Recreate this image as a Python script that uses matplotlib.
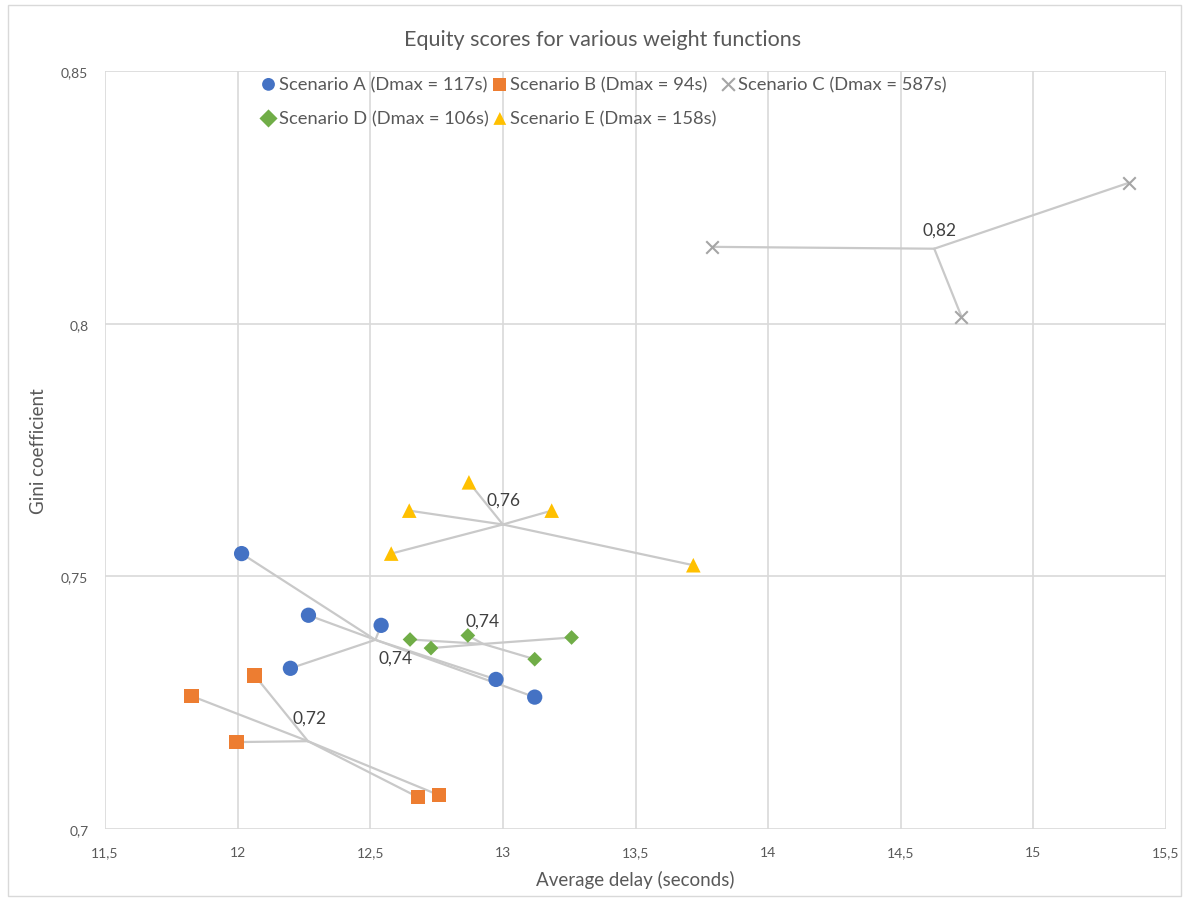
import matplotlib
matplotlib.use("Agg")
import matplotlib.pyplot as plt
import numpy as np
from matplotlib.patches import Rectangle

plt.rcParams['font.family'] = ['Lato', 'DejaVu Sans']

# ---- data ----
scenario_names = ["Scenario A (Dmax = 117s)", "Scenario B (Dmax = 94s)",
                  "Scenario C (Dmax = 587s)", "Scenario D (Dmax = 106s)",
                  "Scenario E (Dmax = 158s)"]
a_delay = [12.015, 12.267, 12.541, 12.199, 12.974, 13.120]
a_gini = [0.7545, 0.7423, 0.7403, 0.7318, 0.7296, 0.7261]
b_delay = [11.827, 12.064, 11.996, 12.680, 12.759]
b_gini = [0.7263, 0.7304, 0.7172, 0.7063, 0.7067]
c_delay = [13.789, 14.729, 15.361]
c_gini = [0.8152, 0.8014, 0.8279]
d_delay = [12.650, 12.729, 12.868, 13.120, 13.259]
d_gini = [0.7375, 0.7358, 0.7383, 0.7336, 0.7379]
e_delay = [12.872, 12.647, 13.184, 12.579, 13.718]
e_gini = [0.7686, 0.7630, 0.7630, 0.7545, 0.7522]
centroid_labels = ["0,74", "0,72", "0,82", "0,74", "0,76"]
x_ticks = [11.5, 12, 12.5, 13, 13.5, 14, 14.5, 15, 15.5]
y_ticks = [0.7, 0.75, 0.8, 0.85]

# ---- styles ----
colors = ["#4472C4", "#ED7D31", "#A5A5A5", "#70AD47", "#FFC000"]
markers = ["o", "s", "x", "D", "^"]
msizes = [11, 10.5, 9, 7.5, 10.5]
label_offsets = [(20, -18), (2, 24), (5, 19), (0, 23), (1, 25)]  # pixels

series = [(a_delay, a_gini), (b_delay, b_gini), (c_delay, c_gini),
          (d_delay, d_gini), (e_delay, e_gini)]

fig = plt.figure(figsize=(11.87, 9.03), dpi=100)
ax = fig.add_axes([105/1187, 1-830/903, (1166-105)/1187, (830-72)/903])

handles = []
for i, (xs, ys) in enumerate(series):
    xs = np.array(xs); ys = np.array(ys)
    cx, cy = xs.mean(), ys.mean()
    for x, y in zip(xs, ys):
        ax.plot([x, cx], [y, cy], color="#c9c9c9", lw=1.6, zorder=2,
                solid_capstyle="round")
    if markers[i] == "x":
        h = ax.scatter(xs, ys, marker="x", s=msizes[i]**2, color=colors[i],
                       linewidths=1.5, zorder=3, label=scenario_names[i])
    else:
        h = ax.scatter(xs, ys, marker=markers[i], s=msizes[i]**2, color=colors[i],
                       edgecolors="none", zorder=3, label=scenario_names[i])
    handles.append(h)
    ax.annotate(centroid_labels[i], (cx, cy),
                xytext=label_offsets[i], textcoords="offset pixels",
                ha="center", va="center", fontsize=12.5, color="#404040", zorder=4)

ax.set_xlim(11.5, 15.5)
ax.set_ylim(0.7, 0.85)
ax.set_xticks(x_ticks)
ax.set_yticks(y_ticks)
ax.set_xticklabels([f"{t:g}".replace(".", ",") for t in x_ticks])
ax.set_yticklabels([f"{t:g}".replace(".", ",") for t in y_ticks])
ax.tick_params(axis="both", length=0, labelsize=10, labelcolor="#595959", pad=12)
ax.grid(True, color="#d9d9d9", lw=1.2, zorder=0)
ax.set_axisbelow(True)
for s in ax.spines.values():
    s.set_visible(False)

ax.set_xlabel("Average delay (seconds)", fontsize=13.5, color="#595959", labelpad=9)
ax.set_ylabel("Gini coefficient", fontsize=13.5, color="#595959", labelpad=10)

order = [0, 3, 1, 4, 2]
leg = ax.legend(handles=[handles[k] for k in order], ncol=3, loc="upper left",
                bbox_to_anchor=((252-105)/1061, 1.003), frameon=False,
                fontsize=13.2, handletextpad=0.05, columnspacing=0.12,
                handlelength=1.0, borderaxespad=0, labelspacing=0.98,
                scatterpoints=1)
for t in leg.get_texts():
    t.set_color("#595959")
for h in leg.legend_handles:
    h.set_sizes([85])

fig.text(603/1187, 1-40/903, "Equity scores for various weight functions",
         ha="center", va="center", fontsize=15.5, color="#595959")

fig.patches.append(Rectangle((8/1187, 6/903), (1181-8)/1187, (897-6)/903,
                             transform=fig.transFigure, fill=False,
                             edgecolor="#d9d9d9", lw=1))

fig.savefig("out.png", dpi=100)
